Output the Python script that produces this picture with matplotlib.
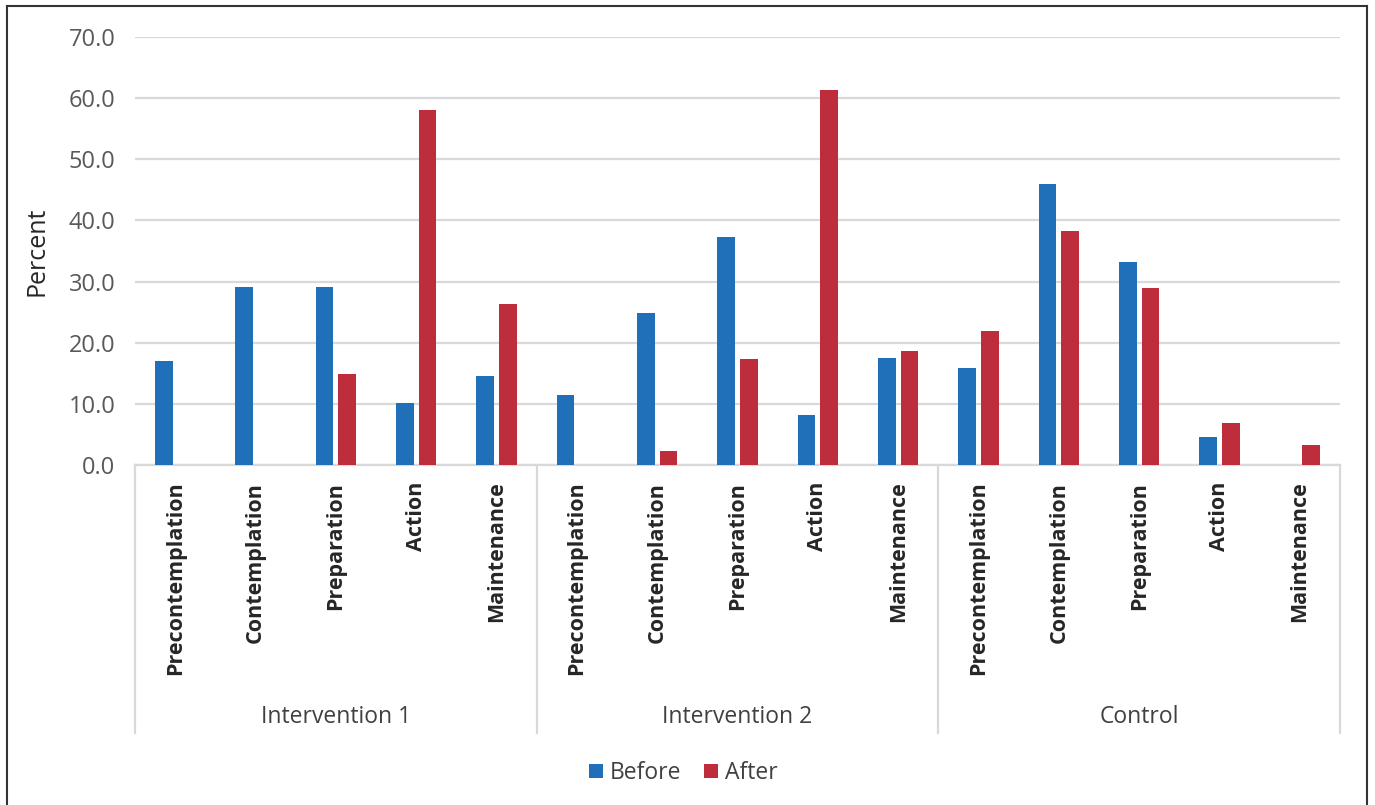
import matplotlib
matplotlib.use("Agg")
import matplotlib.pyplot as plt
import matplotlib.transforms as mtransforms
from matplotlib.lines import Line2D
from matplotlib.patches import Patch
import numpy as np

plt.rcParams['font.family'] = ['Open Sans', 'DejaVu Sans']

groups = ["Intervention 1", "Intervention 2", "Control"]
stages = ["Precontemplation", "Contemplation", "Preparation", "Action", "Maintenance"]
before = [17.0, 29.1, 29.1, 10.1, 14.5,
          11.4, 24.9, 37.3, 8.2, 17.5,
          15.8, 45.9, 33.2, 4.5, 0.0]
after = [0.0, 0.0, 14.9, 58.0, 26.4,
         0.0, 2.3, 17.3, 61.3, 18.7,
         21.9, 38.3, 29.0, 6.8, 3.3]
yticks = [0, 10, 20, 30, 40, 50, 60, 70]

BLUE = "#1F70B8"
RED = "#BE2D3B"
GRID = "#D9D9D9"
TXT = "#595959"

W, H = 1375, 805
fig = plt.figure(figsize=(W / 100, H / 100), dpi=100)
ax = fig.add_axes([135 / W, 1 - 465 / H, (1340 - 135) / W, (465 - 37) / H])

n = len(stages) * len(groups)
x = np.arange(n)
bw = 0.22
off = 0.143
ax.bar(x - off, before, width=bw, color=BLUE, zorder=3)
ax.bar(x + off, after, width=bw, color=RED, zorder=3)

ax.set_xlim(-0.5, n - 0.5)
ax.set_ylim(0, 70)
ax.set_yticks(yticks)
ax.set_yticklabels([f"{v:.1f}" for v in yticks], fontsize=17, color=TXT)
ax.yaxis.grid(True, color=GRID, linewidth=1.6, zorder=0)
ax.set_axisbelow(True)
for s in ["top", "right", "left"]:
    ax.spines[s].set_visible(False)
ax.spines["bottom"].set_color(GRID)
ax.spines["bottom"].set_linewidth(1.6)
ax.tick_params(axis="y", length=0, pad=14)
ax.tick_params(axis="x", length=0, pad=12)

ax.set_xticks(x)
ax.set_xticklabels(stages * len(groups), rotation=90, fontsize=15.5,
                   fontweight="bold", color="#262626", va="top", ha="center")

ax.set_ylabel("Percent", fontsize=18, color="#262626", labelpad=14)

trans = mtransforms.blended_transform_factory(ax.transData, ax.transAxes)
for k in range(len(groups) + 1):
    xs = k * len(stages) - 0.5
    ax.add_line(Line2D([xs, xs], [0, -0.626], transform=trans, color=GRID,
                       linewidth=1.6, clip_on=False))
for k, g in enumerate(groups):
    ax.text(k * len(stages) + 2, -0.589, g, transform=trans, ha="center",
            va="center", fontsize=16.5, color="#404040")

handles = [Patch(facecolor=BLUE, label="Before"), Patch(facecolor=RED, label="After")]
fig.legend(handles=handles, loc="center", bbox_to_anchor=(0.497, 1 - 773 / H),
           ncol=2, frameon=False, fontsize=16.5, handlelength=0.6, handleheight=0.6,
           handletextpad=0.3, columnspacing=1.0, labelcolor="#404040")

# outer frame
for (x0, y0, x1, y1) in [(7, 6, 1367, 6), (7, 6, 7, 805), (1367, 6, 1367, 805)]:
    fig.add_artist(Line2D([x0 / W, x1 / W], [1 - y0 / H, 1 - y1 / H],
                          transform=fig.transFigure, color="#333333", linewidth=1.5))

fig.savefig("out.png", dpi=100)
